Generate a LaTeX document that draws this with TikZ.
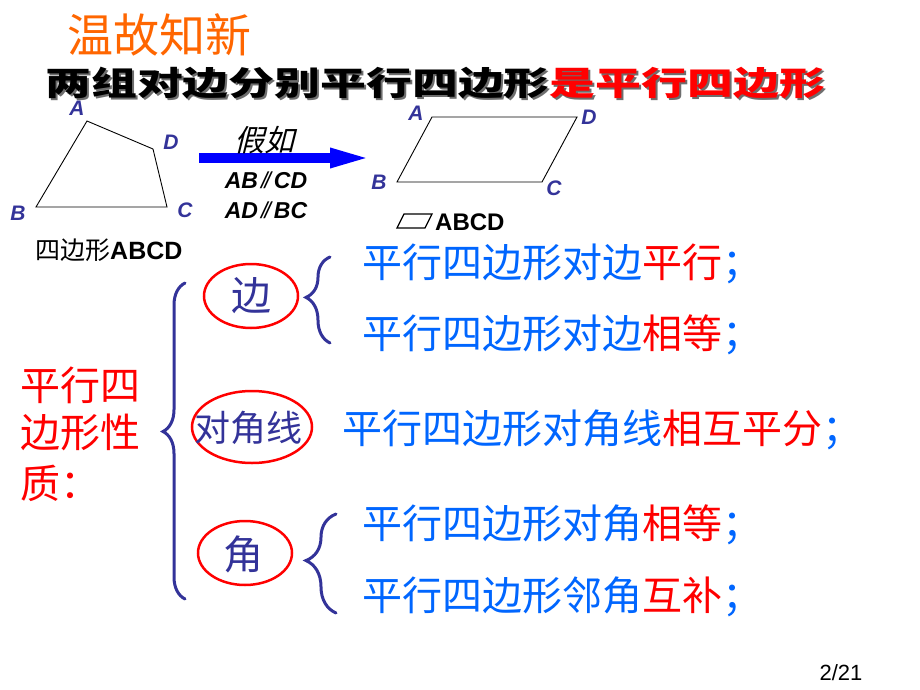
\documentclass[tikz,border=0pt]{standalone}
\usepackage{fontspec}
\setmainfont{Liberation Sans}
\newfontfamily\cjk{Noto Sans CJK SC}
\newfontfamily\cjksl[FakeSlant=0.25]{Noto Sans CJK SC}
\usetikzlibrary{arrows.meta,decorations.pathreplacing}
\definecolor{ttlorange}{RGB}{255,102,0}
\definecolor{indigo}{RGB}{51,51,153}
\definecolor{bblue}{RGB}{0,102,255}
\definecolor{myred}{RGB}{255,0,0}
\definecolor{shadowgray}{RGB}{110,110,110}
\begin{document}
\begin{tikzpicture}[x=1pt,y=-1pt,
  txt/.style={inner sep=0pt, anchor=base west},
  lbl/.style={inner sep=0pt, anchor=center, text=indigo, font=\fontsize{21}{24}\selectfont\bfseries\itshape},
  rtext/.style={txt, text=bblue, font=\cjk\fontsize{40}{48}\selectfont},
  lefttext/.style={txt, text=myred, font=\cjk\fontsize{40}{48}\selectfont},
  ringtext/.style={inner sep=0pt, anchor=center, text=indigo},
  redring/.style={draw=myred, line width=2.5pt},
  brc/.style={draw=indigo, line width=3pt, line cap=round, decorate, decoration={brace, amplitude=#1, aspect=0.53}},
  edgeline/.style={draw=black, line width=0.9pt, line join=miter},
  condtext/.style={inner sep=0pt, font=\bfseries\itshape\fontsize{23}{26}\selectfont}
]
\useasboundingbox (0,0) rectangle (920,690);
\fill[white] (0,0) rectangle (920,690);

% title
\node[txt, text=ttlorange, font=\cjk\fontsize{46}{52}\selectfont] (title) at (67,53) {温故知新};

% heading with shadow
\node[txt, xscale=1.39, text=shadowgray, font=\cjk\bfseries\fontsize{33}{38}\selectfont] (headsh) at (47,98) {两组对边分别平行四边形是平行四边形};
\node[txt, xscale=1.39, text=black, font=\cjk\bfseries\fontsize{33}{38}\selectfont] (head) at (45,96) {两组对边分别平行四边形\textcolor{myred}{是平行四边形}};

% quadrilateral
\coordinate (qA) at (87,121);
\coordinate (qD) at (153,149);
\coordinate (qC) at (167,207);
\coordinate (qB) at (36,207);
\draw[edgeline] (qA) -- (qD) -- (qC) -- (qB) -- cycle;
\node[lbl] (lqA) at (77,108) {A};
\node[lbl] (lqD) at (171,142) {D};
\node[lbl] (lqB) at (18,213) {B};
\node[lbl] (lqC) at (185,210) {C};
\node[txt, font=\fontsize{25}{28}\selectfont] (quadname) at (35,259) {{\cjk 四边形}\textbf{ABCD}};

% arrow
\coordinate (arS) at (199,158);
\coordinate (arE) at (375,158);
\draw[blue, line width=10pt, -{Triangle[length=45pt,width=17pt]}] (arS) -- (arE);
\node[inner sep=0pt, font=\cjksl\fontsize{30}{32}\selectfont] (jiaru) at (264,140) {假如};
\node[condtext] (c1) at (266,180) {AB\hspace{3pt}{\mdseries/\kern-3pt/}\hspace{3pt}CD};
\node[condtext] (c2) at (266,210) {AD\hspace{3pt}{\mdseries/\kern-3pt/}\hspace{3pt}BC};

% parallelogram
\coordinate (pA) at (432,117);
\coordinate (pD) at (577,117);
\coordinate (pC) at (542,182);
\coordinate (pB) at (397,182);
\draw[edgeline] (pA) -- (pD) -- (pC) -- (pB) -- cycle;
\node[lbl] (lpA) at (416,113) {A};
\node[lbl] (lpD) at (589,117) {D};
\node[lbl] (lpB) at (379,182) {B};
\node[lbl] (lpC) at (554,188) {C};
\coordinate (sA) at (404,214);
\coordinate (sD) at (432,214);
\coordinate (sC) at (425,228);
\coordinate (sB) at (397,228);
\draw[edgeline, line width=1.3pt] (sA) -- (sD) -- (sC) -- (sB) -- cycle;
\node[txt, font=\bfseries\fontsize{24}{26}\selectfont] (pname) at (435,230) {ABCD};

% left red text
\node[lefttext] (L1) at (20,400) {平行四};
\node[lefttext] (L2) at (20,447) {边形性};
\node[lefttext] (L3) at (20,498) {质：};

% big brace
\coordinate (bgB) at (185,599);
\coordinate (bgT) at (185,283);
\draw[brc=22pt] (bgB) -- (bgT);

% ellipses
\coordinate (e1c) at (251,296);
\draw[redring] (e1c) ellipse [x radius=47pt, y radius=32pt];
\node[ringtext, font=\cjk\fontsize{40}{44}\selectfont] (e1) at (e1c) {边};
\coordinate (e2c) at (252,427);
\draw[redring] (e2c) ellipse [x radius=60pt, y radius=36pt];
\node[ringtext, font=\cjk\fontsize{36}{40}\selectfont] (e2) at (248,428) {对角线};
\coordinate (e3c) at (245,553);
\draw[redring] (e3c) ellipse [x radius=47pt, y radius=32pt];
\node[ringtext, font=\cjk\fontsize{40}{44}\selectfont] (e3) at (243,554) {角};

% small braces
\coordinate (b1B) at (330,343);
\coordinate (b1T) at (330,257);
\draw[brc=24pt] (b1B) -- (b1T);
\coordinate (b2B) at (336,613);
\coordinate (b2T) at (336,514);
\draw[brc=30pt] (b2B) -- (b2T);

% right statements
\node[rtext] (r1) at (362,277) {平行四边形对边\textcolor{myred}{平行}；};
\node[rtext] (r2) at (362,348) {平行四边形对边\textcolor{myred}{相等}；};
\node[rtext] (r3) at (342,443) {平行四边形对角线\textcolor{myred}{相互平分}；};
\node[rtext] (r4) at (362,538) {平行四边形对角\textcolor{myred}{相等}；};
\node[rtext] (r5) at (362,610) {平行四边形邻角\textcolor{myred}{互补}；};

% page number
\node[inner sep=0pt, font=\fontsize{22}{26}\selectfont] (pg) at (841,673) {2/21};
\end{tikzpicture}
\end{document}
